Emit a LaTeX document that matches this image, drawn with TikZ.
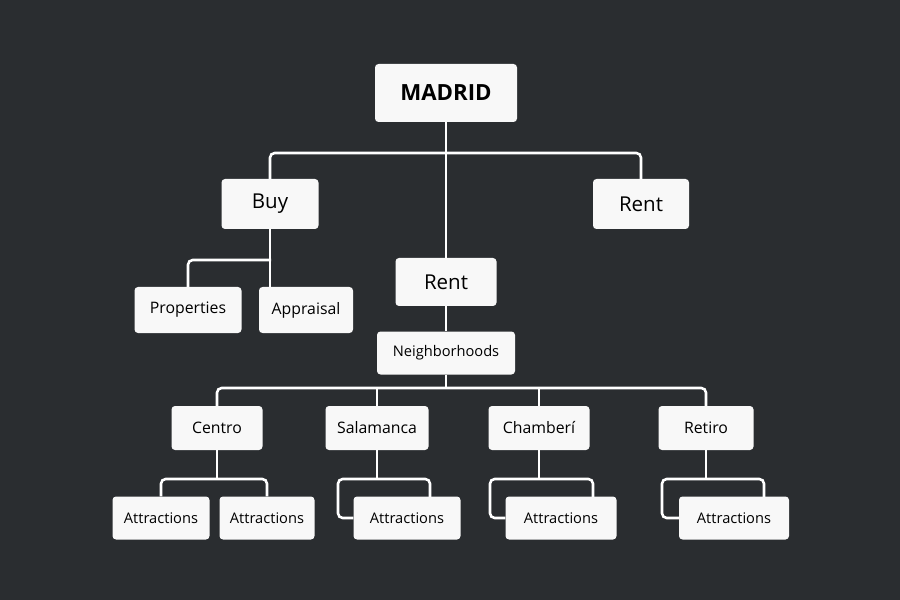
\documentclass[tikz,border=0pt]{standalone}
\usepackage{fontspec}
\setmainfont{Open Sans}
\usepackage{tikz}
\usetikzlibrary{positioning}
\definecolor{bgdark}{HTML}{2A2D30}
\definecolor{boxfill}{HTML}{F8F8F8}
\tikzset{
      tbox/.style = {draw=none, fill=boxfill, rounded corners=3pt, inner sep=0pt, text=black},
      link/.style = {white, line width=2.2pt, rounded corners=4pt},
    }

\begin{document}
\begin{tikzpicture}[x=0.03cm, y=-0.03cm]
        \fill[bgdark] (0,0) rectangle (900,600);
        \useasboundingbox (0,0) rectangle (900,600);
        % boxes
        \node[tbox, minimum width=142*0.03cm, minimum height=58*0.03cm, font=\fontsize{19}{22}\selectfont\bfseries] (madrid) at (446,93) {MADRID};
        \node[tbox, minimum width=97*0.03cm, minimum height=50*0.03cm, font=\fontsize{17.5}{20}\selectfont] (buy) at (270,204) {Buy};
        \node[tbox, minimum width=96*0.03cm, minimum height=50*0.03cm, font=\fontsize{17.5}{20}\selectfont] (rentr) at (641,204) {Rent};
        \node[tbox, minimum width=101*0.03cm, minimum height=48*0.03cm, font=\fontsize{17.5}{20}\selectfont] (rentm) at (446,282) {Rent};
        \node[tbox, minimum width=107*0.03cm, minimum height=46*0.03cm, font=\fontsize{13.5}{16}\selectfont] (prop) at (188,310) {Properties};
        \node[tbox, minimum width=94*0.03cm, minimum height=46*0.03cm, font=\fontsize{13.5}{16}\selectfont] (appr) at (306,310) {Appraisal};
        \node[tbox, minimum width=138*0.03cm, minimum height=43*0.03cm, font=\fontsize{12.5}{15}\selectfont] (nbh) at (446,353) {Neighborhoods};
        \node[tbox, minimum width=91*0.03cm, minimum height=44*0.03cm, font=\fontsize{13.5}{16}\selectfont] (centro) at (217,428) {Centro};
        \node[tbox, minimum width=103*0.03cm, minimum height=44*0.03cm, font=\fontsize{13.5}{16}\selectfont] (salam) at (377,428) {Salamanca};
        \node[tbox, minimum width=101*0.03cm, minimum height=44*0.03cm, font=\fontsize{13.5}{16}\selectfont] (chamb) at (539,428) {Chamberí};
        \node[tbox, minimum width=95*0.03cm, minimum height=44*0.03cm, font=\fontsize{13.5}{16}\selectfont] (retiro) at (706,428) {Retiro};
        \node[tbox, minimum width=97*0.03cm, minimum height=43*0.03cm, font=\fontsize{12.5}{15}\selectfont] (attA) at (161,518) {Attractions};
        \node[tbox, minimum width=95*0.03cm, minimum height=43*0.03cm, font=\fontsize{12.5}{15}\selectfont] (attB) at (267,518) {Attractions};
        \node[tbox, minimum width=107*0.03cm, minimum height=43*0.03cm, font=\fontsize{12.5}{15}\selectfont] (attC) at (407,518) {Attractions};
        \node[tbox, minimum width=111*0.03cm, minimum height=43*0.03cm, font=\fontsize{12.5}{15}\selectfont] (attD) at (561,518) {Attractions};
        \node[tbox, minimum width=110*0.03cm, minimum height=43*0.03cm, font=\fontsize{12.5}{15}\selectfont] (attE) at (734,518) {Attractions};

        % connectors
        \draw[link] (madrid.south) -- (rentm.north);
        \draw[link] (buy.north) |- (446,153) -| (rentr.north);
        \draw[link] (buy.south) -- (appr.north-|buy.south);
        \draw[link] (271,260) -| (prop.north);
        \draw[link] (rentm.south) -- (nbh.north);
        \draw[link] (nbh.south) -- (446,388);
        \draw[link] (centro.north) |- (446,388) -| (retiro.north);
        \draw[link] (salam.north) -- (377,388);
        \draw[link] (chamb.north) -- (539,388);
        \draw[link] (centro.south) -- (217,479);
        \draw[link] (attA.north) |- (217,479) -| (attB.north);
        \draw[link] (salam.south) -- (377,479);
        \draw[link] (attC.west) -| (338,479) -- (430,479) -- (430,497);
        \draw[link] (chamb.south) -- (539,479);
        \draw[link] (attD.west) -| (490,479) -- (593,479) -- (593,497);
        \draw[link] (retiro.south) -- (706,479);
        \draw[link] (attE.west) -| (662,479) -- (764,479) -- (764,497);
        \end{tikzpicture}
\end{document}
